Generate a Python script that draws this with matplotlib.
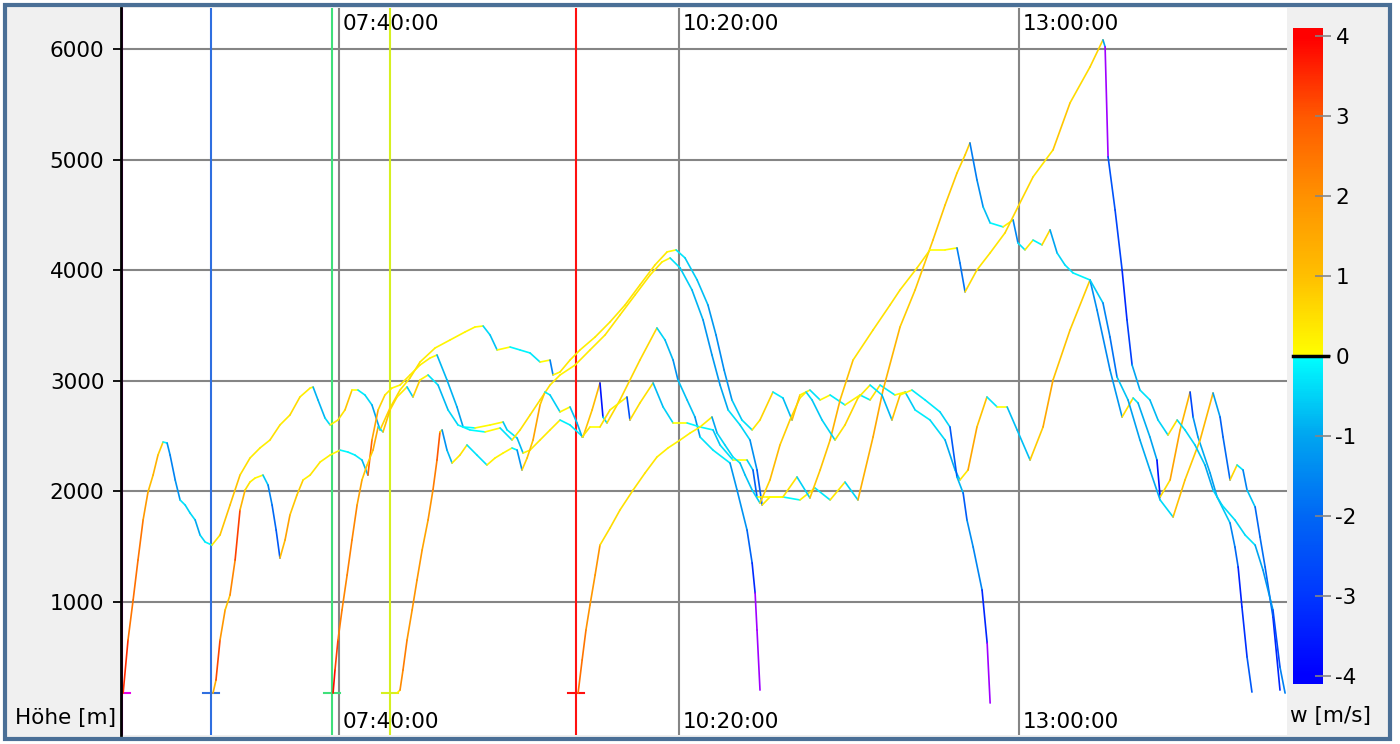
import matplotlib
matplotlib.use("Agg")
import matplotlib.pyplot as plt
import numpy as np
from matplotlib.collections import LineCollection
from matplotlib.colors import LinearSegmentedColormap, Normalize
from matplotlib.patches import Rectangle
from matplotlib.transforms import blended_transform_factory

# flight traces: time in minutes after midnight, altitude in m
f1_t = [358.4, 360.7, 363.1, 365.4, 367.8, 370.1, 372.5, 374.8, 377.2, 379.1, 380.5, 382.9, 385.2,
        387.6, 389.9, 392.3, 394.6, 397.0, 400.2, 404.0, 408.7, 413.4, 418.1, 422.8, 427.5, 432.2,
        436.9, 441.6, 446.4, 447.8, 450.1, 453.4, 455.8, 459.5, 462.8, 466.1, 468.9, 472.2, 475.5,
        479.3, 484.0, 488.7, 493.4, 498.1, 505.2, 512.2, 519.3, 524.0, 527.8, 531.1, 534.4, 540.5,
        545.2, 549.9, 554.6, 559.3, 560.7, 564.0, 568.7, 573.4, 580.5, 587.5, 594.6, 601.6, 608.7,
        614.4, 618.6, 622.8, 628.5, 633.6, 637.4, 641.2, 644.9, 649.6, 654.4, 658.1, 664.2, 668.9,
        673.2, 676.9, 681.6, 686.4, 691.1, 698.1, 705.2, 709.9, 714.6, 721.6, 726.4, 731.1, 738.1,
        745.2, 749.9, 752.2, 756.0, 760.2, 764.9, 769.7, 774.4, 779.1, 785.2, 791.3, 796.0, 804.0,
        813.4, 816.7, 822.8, 828.5, 833.7, 836.0, 841.6, 844.9, 846.4, 851.1, 855.8, 860.5, 861.9,
        864.2, 869.9, 873.2, 879.3, 881.6, 883.1, 884.9, 887.3, 889.6]
f1_alt = [177, 656, 1018, 1380, 1742, 1995, 2148, 2329, 2447, 2438, 2329, 2104, 1923,
          1877, 1805, 1742, 1606, 1543, 1515, 1606, 1877, 2148, 2302, 2393, 2465, 2601,
          2691, 2854, 2935, 2944, 2827, 2664, 2601, 2646, 2737, 2917, 2917, 2872, 2782,
          2556, 2755, 2917, 3026, 3170, 3297, 3369, 3442, 3487, 3496, 3414, 3279, 3306,
          3279, 3252, 3170, 3188, 3053, 3080, 3188, 3279, 3396, 3532, 3686, 3867, 4048,
          4166, 4184, 4112, 3913, 3686, 3415, 3098, 2827, 2646, 2556, 2646, 2899, 2845,
          2646, 2872, 2917, 2827, 2872, 2782, 2872, 2827, 2962, 2872, 2899, 2737, 2646,
          2465, 2194, 2104, 2194, 2583, 2854, 2764, 2764, 2556, 2284, 2583, 3008, 3460,
          3912, 3641, 3099, 2673, 2845, 2800, 2492, 2284, 1950, 2104, 2556, 2899, 2673,
          2492, 2167, 1950, 1715, 1498, 1317, 955, 503, 186]

f2_t = [400.7, 402.1, 404.0, 406.4, 408.7, 411.1, 413.4, 415.8, 418.1, 420.5, 424.2, 426.6, 428.5,
        430.4, 432.2, 434.6, 436.9, 440.2, 443.1, 446.4, 451.1, 455.8, 460.5, 464.2, 467.5, 470.8,
        473.6, 475.5, 478.4, 481.6, 484.9, 488.7, 493.4, 498.1, 502.8, 506.1, 510.8, 515.5, 518.4,
        524.0, 531.1, 537.2, 539.1, 543.8, 546.6, 549.9, 554.6, 559.3, 564.0, 568.7, 574.8, 579.1,
        582.8, 584.2, 586.1, 592.2, 601.6, 609.6, 613.4, 617.2, 619.5, 623.8, 627.5, 629.9, 636.0,
        644.0, 647.3, 652.0, 654.4, 655.8, 656.7, 658.1]
f2_alt = [177, 295, 656, 928, 1063, 1380, 1832, 2013, 2085, 2121, 2148, 2058, 1877,
          1651, 1398, 1561, 1787, 1968, 2104, 2148, 2266, 2329, 2374, 2356, 2329, 2284,
          2148, 2465, 2737, 2872, 2935, 2962, 3053, 3143, 3206, 3234, 3008, 2764, 2583,
          2574, 2601, 2628, 2556, 2483, 2347, 2374, 2465, 2556, 2646, 2601, 2492, 2737,
          2981, 2673, 2619, 2827, 3188, 3478, 3370, 3188, 3008, 2827, 2673, 2492, 2374,
          2257, 2013, 1651, 1353, 1082, 747, 204]

f3_t = [457.2, 458.1, 459.5, 461.4, 463.8, 466.1, 468.5, 470.8, 473.2, 476.0, 478.4, 480.7, 484.0,
        487.3, 492.0, 494.8, 498.1, 501.9, 506.6, 511.3, 516.0, 521.6, 528.7, 535.8, 541.4, 545.2,
        549.9, 554.6, 559.3, 564.0, 571.1, 578.1, 585.2, 592.2, 599.3, 606.4, 612.0, 615.8, 620.5,
        626.1, 631.3, 635.5, 639.3, 643.1, 648.7, 653.4, 656.7, 659.1, 662.8, 668.9, 676.9, 684.0,
        691.1, 698.1, 704.2, 711.3, 716.0, 724.0, 731.1, 739.5, 745.2, 750.8, 754.6, 756.9, 760.2,
        763.1, 766.4, 772.5, 777.2, 779.5, 782.8, 786.6, 790.8, 794.6, 797.9, 801.6, 805.4, 813.4,
        819.5, 822.8, 826.1, 831.3, 836.9, 841.6, 846.4, 852.5, 858.1, 865.2, 871.3, 874.6, 876.0,
        879.3, 882.6, 885.4, 887.3, 891.1, 893.4, 895.8, 899.5, 902.8]
f3_alt = [177, 385, 656, 928, 1244, 1561, 1877, 2104, 2239, 2374, 2583, 2538, 2737,
          2854, 2945, 2854, 3008, 3053, 2962, 2737, 2601, 2556, 2538, 2574, 2465, 2556,
          2691, 2827, 2962, 3053, 3143, 3279, 3415, 3595, 3776, 3957, 4075, 4111, 4021,
          3822, 3551, 3234, 2962, 2737, 2601, 2465, 2194, 1877, 1950, 1950, 1923, 2031,
          1923, 2085, 1923, 2492, 2917, 3487, 3822, 4273, 4590, 4879, 5042, 5151, 4817,
          4573, 4428, 4392, 4455, 4247, 4184, 4273, 4229, 4365, 4157, 4048, 3976, 3912,
          3704, 3397, 3035, 2827, 2465, 2194, 1923, 1769, 2104, 2465, 2890, 2673, 2492,
          2104, 2239, 2194, 2013, 1860, 1588, 1317, 864, 204]

f4_t = [487.3, 488.7, 490.1, 492.0, 494.4, 496.7, 499.1, 501.9, 504.2, 506.1, 507.5, 508.5, 510.8,
        513.2, 516.9, 520.2, 524.9, 529.6, 533.4, 537.2, 541.4, 543.8, 546.1, 548.5, 551.3, 554.6,
        556.9, 559.3, 564.0, 568.7, 572.0, 574.4, 578.1, 582.8, 587.5, 595.5, 596.9, 601.6, 607.8,
        612.5, 617.2, 623.8, 629.9, 636.0, 639.3, 645.4, 652.0, 654.8, 656.7, 661.4, 668.9, 675.5,
        681.6, 686.4, 691.1, 695.8, 701.9, 711.3, 719.3, 724.0, 732.0, 738.1, 745.2, 750.8, 752.2,
        754.6, 760.2, 766.4, 773.4, 779.5, 786.6, 796.0, 804.0, 813.4, 819.5, 820.5, 821.9, 825.2,
        828.5, 830.8, 833.2, 836.9, 841.6, 845.4, 850.1, 854.4, 858.1, 862.8, 867.5, 871.3, 875.5,
        881.6, 886.4, 891.1, 894.8, 899.5, 902.8, 905.2]
f4_alt = [177, 204, 385, 656, 928, 1199, 1470, 1742, 2013, 2284, 2538, 2556, 2374,
          2257, 2329, 2420, 2329, 2239, 2302, 2347, 2393, 2374, 2194, 2302, 2465, 2782,
          2899, 2872, 2719, 2764, 2619, 2492, 2583, 2583, 2737, 2854, 2646, 2800, 2981,
          2764, 2619, 2619, 2583, 2556, 2420, 2284, 2284, 2194, 1950, 1950, 1950, 2131,
          1941, 2194, 2465, 2827, 3188, 3460, 3686, 3822, 4021, 4184, 4184, 4202, 4066,
          3804, 4003, 4157, 4338, 4573, 4844, 5088, 5513, 5838, 6083, 6020, 5025, 4545,
          4003, 3551, 3144, 2917, 2827, 2646, 2510, 2646, 2556, 2420, 2239, 2013, 1877,
          1742, 1606, 1515, 1289, 928, 411, 177]

f5_t = [572.5, 574.4, 576.2, 578.1, 580.5, 582.8, 587.5, 592.2, 598.4, 604.0, 609.6, 614.8, 620.5,
        625.2, 629.9, 635.5, 637.9, 641.6, 645.4, 648.7, 651.1, 654.4, 658.1, 662.8, 667.5, 672.2,
        676.9, 679.8, 682.6, 687.3, 693.4, 698.1, 704.2, 709.9, 715.5, 720.2, 724.0, 729.6, 735.8,
        742.8, 747.5, 750.8, 753.7, 755.5, 758.4, 762.6, 765.0, 766.4]
f5_alt = [177, 476, 747, 973, 1244, 1515, 1669, 1832, 2013, 2167, 2311, 2393, 2465,
          2528, 2583, 2673, 2528, 2420, 2311, 2257, 2148, 2013, 1895, 2104, 2420, 2646,
          2845, 2899, 2827, 2646, 2465, 2601, 2845, 2962, 2872, 2646, 2872, 2917, 2827,
          2719, 2583, 2131, 1986, 1742, 1498, 1109, 629, 87]

# launch markers
launch_t = [357.9, 399.8, 456.7, 484.0, 571.5]
launch_colors = ["#e800e8", "#2f6fe0", "#3fe07a", "#d6f020", "#ff1010"]
ground_alt = 180

time_ticks = ["07:40:00", "10:20:00", "13:00:00"]
alt_ticks = [1000, 2000, 3000, 4000, 5000, 6000]
w_ticks = [-4, -3, -2, -1, 0, 1, 2, 3, 4]

FS = 15.5
GRID = "#858585"

cmap = LinearSegmentedColormap.from_list("w", [
    (0.0, "#0000ff"), (0.125, "#0038ff"), (0.25, "#0068f5"), (0.375, "#00a6f0"),
    (0.499, "#00ffff"), (0.501, "#ffff00"), (0.625, "#ffc000"), (0.75, "#ff9200"),
    (0.875, "#ff5a00"), (1.0, "#ff0000")])
cmap.set_under("#a000ff")
cmap.set_over("#ff0000")
norm = Normalize(vmin=-4, vmax=4)


def to_minutes(s):
    h, m, sec = (int(v) for v in s.split(":"))
    return h * 60 + m + sec / 60


fig = plt.figure(figsize=(14, 7.44), dpi=100)
fig.patch.set_facecolor("white")
fig.add_artist(Rectangle((5 / 1400, 5 / 744), 1385 / 1400, 734 / 744, transform=fig.transFigure,
                         facecolor="#f0f0f0", edgecolor="#4a6f96", lw=3, zorder=-1))

ax = fig.add_axes([121 / 1400, 9 / 744, 1166 / 1400, 727 / 744])
ax.set_facecolor("white")
ax.set_xlim(357.4, 906.1)
ax.set_ylim(-202, 6371)

for a in alt_ticks:
    ax.axhline(a, color=GRID, lw=1.5, zorder=1)

trans = blended_transform_factory(ax.transData, ax.transAxes)
for lab in time_ticks:
    m = to_minutes(lab)
    ax.axvline(m, color=GRID, lw=1.5, zorder=1)
    for yf in (0.978, 0.018):
        ax.annotate(lab, xy=(m, yf), xycoords=trans, xytext=(2.5, 0), textcoords="offset points",
                    ha="left", va="center", fontsize=FS, zorder=5)

# launch markers
for t0, c in zip(launch_t, launch_colors):
    ax.axvline(t0, color=c, lw=1.5, zorder=2)
    ax.plot([t0 - 3.7, t0 + 3.7], [ground_alt, ground_alt], color=c, lw=1.5, zorder=2)

# traces coloured by vertical speed
flights = [(f1_t, f1_alt), (f2_t, f2_alt), (f3_t, f3_alt), (f4_t, f4_alt), (f5_t, f5_alt)]
for t, alt in flights:
    t = np.asarray(t, dtype=float)
    alt = np.asarray(alt, dtype=float)
    pts = np.column_stack([t, alt])
    segs = np.stack([pts[:-1], pts[1:]], axis=1)
    w = np.diff(alt) / (np.diff(t) * 60.0)
    lc = LineCollection(segs, cmap=cmap, norm=norm, lw=1.2, capstyle="round", zorder=3)
    lc.set_array(w)
    ax.add_collection(lc)

ax.set_xticks([])
ax.set_yticks(alt_ticks)
ax.tick_params(axis="y", length=6, width=1.3, color="black", pad=6, labelsize=FS)
for side in ("top", "right", "bottom"):
    ax.spines[side].set_visible(False)
ax.spines["left"].set_color("black")
ax.spines["left"].set_linewidth(2)
ax.spines["left"].set_zorder(4)

fig.text(15 / 1400, 1 - 718 / 744, "Höhe [m]", ha="left", va="center", fontsize=FS)

# colour bar
cax = fig.add_axes([1293 / 1400, 60 / 744, 30 / 1400, 656 / 744])
grad = np.clip(np.linspace(-4.1, 4.1, 600), -4, 4).reshape(-1, 1)
cax.imshow(grad, aspect="auto", cmap=cmap, norm=norm, origin="lower", extent=[0, 1, -4.1, 4.1])
cax.set_xlim(0, 1)
cax.set_ylim(-4.1, 4.1)
cax.plot([0, 1.18], [0, 0], color="black", lw=2.5, clip_on=False, zorder=5)
cax.set_xticks([])
cax.yaxis.tick_right()
cax.set_yticks(w_ticks)
cax.set_yticklabels([str(v) for v in w_ticks])
cax.tick_params(axis="y", direction="inout", length=12, width=1.2, color=GRID, pad=3, labelsize=FS)
for s in cax.spines.values():
    s.set_visible(False)

fig.text(1290 / 1400, 1 - 716 / 744, "w [m/s]", ha="left", va="center", fontsize=FS)

fig.savefig("out.png", dpi=100, facecolor=fig.get_facecolor())
